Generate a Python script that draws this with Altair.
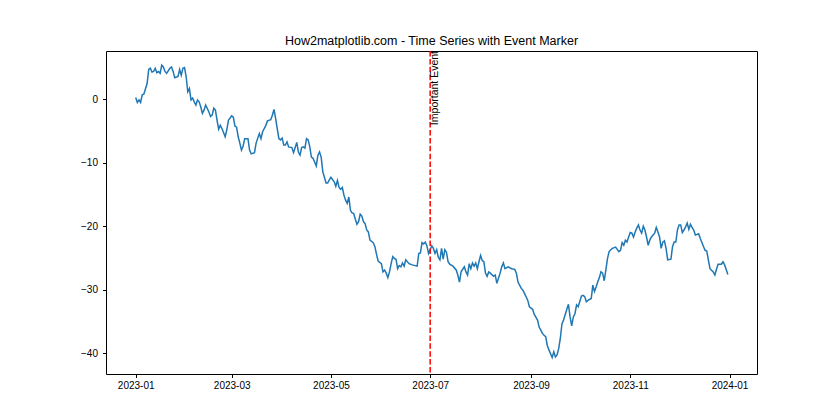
import altair as alt
import pandas as pd

# Day offsets from 2023-01-01 and the series value
day_offset = [
    0, 1, 2, 3, 4, 5, 7, 8, 9, 10, 11, 12, 13, 14, 15, 16, 17, 18, 19, 21,
    22, 23, 24, 26, 27, 28, 29, 30, 31, 32, 33, 34, 35, 36, 37, 38, 39, 40, 41, 42,
    43, 45, 46, 47, 48, 49, 50, 51, 52, 53, 55, 56, 57, 59, 60, 61, 62, 63, 64, 65,
    66, 67, 69, 70, 71, 73, 74, 76, 77, 78, 80, 81, 83, 84, 85, 86, 87, 88, 89, 90,
    91, 92, 93, 94, 96, 97, 99, 100, 101, 102, 103, 104, 105, 106, 107, 108, 109, 111, 112, 113,
    114, 115, 117, 118, 119, 120, 122, 123, 124, 125, 126, 127, 128, 129, 130, 131, 132, 133, 134, 135,
    136, 137, 138, 139, 140, 141, 142, 143, 144, 146, 147, 148, 149, 151, 152, 153, 154, 155, 156, 157,
    158, 159, 160, 161, 162, 163, 164, 165, 166, 168, 170, 173, 174, 175, 176, 177, 178, 179, 180, 181,
    182, 183, 184, 185, 186, 187, 188, 189, 190, 191, 192, 193, 195, 197, 198, 199, 200, 202, 203, 204,
    205, 206, 207, 208, 209, 210, 211, 212, 213, 214, 215, 216, 217, 218, 220, 221, 222, 224, 225, 226,
    227, 229, 231, 233, 234, 235, 237, 238, 239, 241, 242, 244, 245, 247, 248, 250, 251, 252, 253, 254,
    256, 257, 258, 259, 260, 261, 262, 263, 265, 266, 267, 268, 269, 270, 271, 272, 274, 275, 276, 277,
    278, 280, 281, 282, 283, 284, 285, 286, 287, 288, 289, 290, 291, 292, 293, 295, 297, 298, 299, 300,
    301, 302, 303, 304, 305, 306, 307, 308, 309, 310, 311, 312, 313, 314, 315, 316, 317, 319, 320, 321,
    322, 323, 324, 325, 326, 327, 329, 330, 331, 332, 333, 334, 335, 336, 337, 338, 339, 340, 341, 342,
    343, 344, 346, 347, 349, 350, 351, 352, 353, 355, 356, 357, 358, 360, 361, 362, 364,
]
value = [
    0.3, -0.5, -0.1, -0.5, 0.7, 0.8, 2.5, 4.7, 4.9, 4.3, 4.4, 4.9, 4.2, 4.4, 4.1, 5.4, 5.1, 4.4, 4.1, 4.9,
    5.1, 4.4, 3.4, 3.6, 4.7, 3.8, 4.9, 5.0, 3.6, 1.2, 1.7, -0.1, 0.2, -0.4, -0.9, -0.1, -0.4, -1.2, -2.2, -1.7,
    -0.9, -2.0, -2.7, -2.5, -1.4, -1.7, -3.3, -4.7, -4.1, -4.6, -5.9, -4.8, -3.3, -2.6, -2.8, -4.2, -4.4, -5.9, -6.9, -8.0,
    -7.4, -6.2, -6.2, -8.0, -8.6, -8.4, -6.9, -5.4, -6.2, -5.1, -4.1, -3.4, -3.2, -2.5, -1.6, -3.0, -4.6, -6.2, -6.4, -6.1,
    -7.2, -7.2, -6.7, -7.5, -7.6, -8.4, -6.8, -8.3, -8.8, -7.6, -7.5, -7.7, -6.2, -6.4, -7.5, -9.1, -9.3, -10.5, -8.8, -8.3,
    -9.1, -11.4, -13.2, -13.2, -12.7, -12.3, -13.0, -13.7, -12.8, -13.9, -14.2, -13.9, -15.1, -15.9, -16.4, -15.4, -17.5, -17.9, -18.0, -18.9,
    -19.7, -19.3, -18.1, -18.4, -19.3, -19.6, -20.6, -20.9, -22.2, -22.6, -23.2, -24.4, -25.5, -25.9, -27.2, -26.9, -27.4, -28.1, -27.2, -25.9,
    -24.8, -25.1, -25.2, -26.7, -26.2, -26.4, -25.8, -26.3, -25.3, -25.9, -26.1, -26.3, -24.3, -24.2, -22.6, -22.8, -22.5, -23.1, -24.3, -23.7,
    -23.1, -23.5, -24.3, -23.7, -24.9, -25.3, -23.5, -25.2, -23.7, -24.1, -25.6, -26.0, -26.3, -26.9, -27.7, -28.8, -27.2, -26.4, -27.2, -27.7,
    -25.9, -26.7, -25.8, -26.3, -25.8, -26.7, -25.6, -24.6, -25.4, -25.6, -27.4, -27.9, -27.2, -27.4, -27.9, -27.7, -29.0, -27.4, -26.4, -25.8,
    -26.7, -26.4, -26.7, -26.8, -27.4, -28.8, -29.8, -30.1, -30.6, -31.7, -32.7, -33.1, -33.9, -34.8, -35.9, -36.9, -37.2, -37.4, -38.8, -39.5,
    -40.7, -39.8, -40.6, -40.3, -39.3, -37.7, -35.4, -34.8, -33.1, -32.3, -34.3, -35.7, -34.3, -33.8, -32.4, -32.7, -31.0, -30.9, -31.1, -31.9,
    -31.7, -31.4, -29.3, -30.3, -29.6, -28.8, -28.1, -27.2, -27.4, -28.6, -26.9, -25.1, -24.0, -23.7, -23.5, -23.3, -24.0, -23.8, -22.6, -23.0,
    -22.2, -22.5, -21.7, -21.0, -21.1, -21.7, -20.9, -20.3, -19.8, -20.6, -21.1, -20.0, -20.6, -21.7, -23.0, -22.2, -21.7, -21.1, -20.2, -20.9,
    -21.7, -23.5, -22.5, -22.3, -23.5, -25.3, -25.2, -23.2, -22.5, -22.5, -20.6, -19.8, -19.8, -21.0, -20.6, -20.1, -19.5, -20.5, -19.7, -20.2,
    -20.6, -21.4, -21.2, -21.9, -23.2, -23.8, -23.9, -25.3, -26.7, -27.2, -27.7, -26.8, -26.0, -26.0, -25.6, -26.1, -27.6,
]
event_date = ["2023-07-01"]
event_label = ["Important Event"]
x_ticks = ["2023-01-01", "2023-03-01", "2023-05-01", "2023-07-01", "2023-09-01", "2023-11-01", "2024-01-01"]
y_ticks = [0, -10, -20, -30, -40]

dates = (pd.Timestamp("2023-01-01") + pd.to_timedelta(day_offset, unit="D")).strftime("%Y-%m-%d")
df = pd.DataFrame({"date": list(dates), "value": value})
ev = pd.DataFrame({"date": event_date, "label": event_label})

FONT = "Liberation Sans"

x_dom = [alt.DateTime(year=2022, month=12, date=13, hours=17, minutes=45, utc=True),
         alt.DateTime(year=2024, month=1, date=17, hours=21, minutes=40, utc=True)]
x_vals = [alt.DateTime(year=int(s[:4]), month=int(s[5:7]), date=int(s[8:]), utc=True) for s in x_ticks]

xscale = alt.Scale(type="utc", domain=x_dom)
yscale = alt.Scale(domain=[-43.3, 7.62], nice=False, zero=False)

line = alt.Chart(df).mark_line(color="#1f77b4", strokeWidth=1.5).encode(
    x=alt.X("date:T", scale=xscale, title=None,
            axis=alt.Axis(values=x_vals, labelExpr="utcFormat(datum.value, '%Y-%m')", grid=False,
                          domain=False, tickSize=3.5, tickColor="black", labelPadding=3,
                          labelFont=FONT, labelFontSize=10, labelColor="black")),
    y=alt.Y("value:Q", scale=yscale, title=None,
            axis=alt.Axis(values=y_ticks, grid=False, domain=False, tickSize=3.5,
                          tickColor="black", labelPadding=5, labelFont=FONT,
                          labelFontSize=10, labelColor="black",
                          labelExpr="replace(datum.label, '-', '\u2212')")),
)

rule = alt.Chart(ev).mark_rule(color="red", strokeWidth=1.5, strokeDash=[5.5, 2.4]).encode(
    x=alt.X("date:T", scale=xscale),
)

text = alt.Chart(ev).mark_text(angle=270, align="right", baseline="top", font=FONT,
                               fontSize=10.5, color="black").encode(
    x=alt.X("date:T", scale=xscale),
    y=alt.value(0),
    text="label:N",
)

chart = alt.layer(line, rule, text).properties(
    width=651, height=323,
    autosize=alt.AutoSizeParams(type="none"),
    padding={"left": 106, "top": 51, "right": 83, "bottom": 46},
    background="white",
    title=alt.Title("How2matplotlib.com - Time Series with Event Marker", font=FONT,
                    fontSize=12.5, fontWeight="normal", color="black", anchor="middle",
                    baseline="alphabetic", offset=4, dy=11),
).configure_view(stroke="black", strokeWidth=1)

chart.save("out.html", embed_options={"renderer": "svg", "actions": False})
